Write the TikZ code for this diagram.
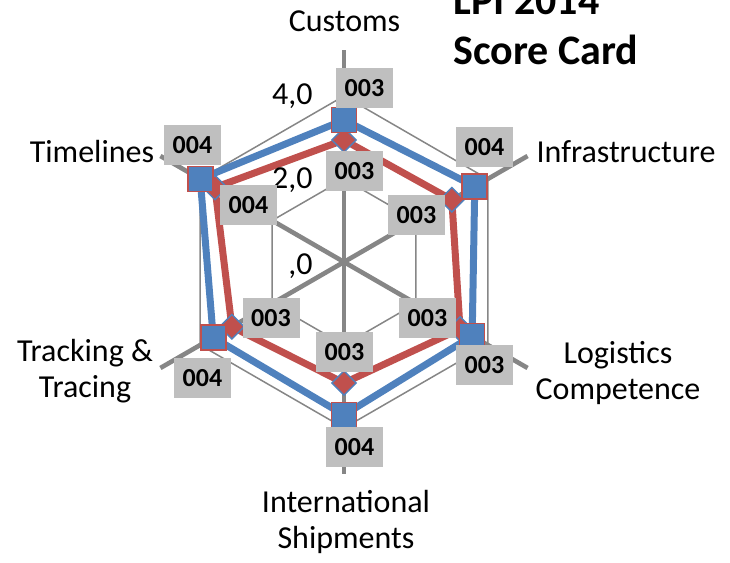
\documentclass[tikz,border=0pt]{standalone}
\usepackage{fontspec}
\setmainfont{Carlito}
\usepackage{xcolor}
\usetikzlibrary{shapes.geometric}
\definecolor{serieblue}{HTML}{4F81BD}
\definecolor{seriered}{HTML}{C0504D}
\definecolor{gridgray}{HTML}{868686}
\definecolor{labelgray}{HTML}{BFBFBF}
\tikzset{
    grid-line/.style = {draw=gridgray, line width=0.75pt},
    axis-line/.style = {draw=gridgray, line width=2.3pt},
    blue-line/.style = {draw=serieblue, line width=3.5pt},
    red-line/.style = {draw=seriered, line width=3.5pt},
    blue-mark/.style = {rectangle, fill=serieblue, draw=seriered, line width=0.8pt, minimum size=12.5pt, inner sep=0pt},
    red-mark/.style = {diamond, fill=seriered, draw=serieblue, line width=0.7pt, minimum size=12.5pt, inner sep=0pt},
    value-box/.style = {fill=labelgray, font=\fontsize{13}{15}\selectfont\bfseries, minimum width=28.5pt, minimum height=20pt, inner sep=0pt},
    axis-label/.style = {font=\fontsize{16}{18}\selectfont, align=center},
    scale-label/.style = {font=\fontsize{16}{18}\selectfont, anchor=east, inner sep=0pt},
    title-line/.style = {font=\fontsize{21}{25}\selectfont\bfseries, anchor=base west, inner sep=0pt},
}

\begin{document}
\begin{tikzpicture}[x=0.5pt, y=0.5pt]
\useasboundingbox (0,0) rectangle (730,563);

% radar grid and spokes
\begin{scope}[shift={(344,301)}]
\coordinate (O) at (0,0);
\foreach \r in {83,166}
    \draw[grid-line] (90:\r) -- (30:\r) -- (-30:\r) -- (-90:\r) -- (-150:\r) -- (150:\r) -- cycle;
\foreach \a in {90,30,-30,-90,-150,150}
    \draw[axis-line] (O) -- (\a:212);

% series points
\coordinate (r1) at (90:122);
\coordinate (r2) at (30:124.5);
\coordinate (r3) at (-30:134);
\coordinate (r4) at (-90:121);
\coordinate (r5) at (-150:129.5);
\coordinate (r6) at (150:149);
\coordinate (b1) at (90:142);
\coordinate (b2) at (30:151);
\coordinate (b3) at (-30:148);
\coordinate (b4) at (-90:153);
\coordinate (b5) at (-150:151);
\coordinate (b6) at (150:166);
\end{scope}

\draw[red-line] (r1) -- (r2) -- (r3) -- (r4) -- (r5) -- (r6) -- cycle;
\foreach \i in {1,...,6}
    \node[red-mark] (rm\i) at (r\i) {};
\draw[blue-line] (b1) -- (b2) -- (b3) -- (b4) -- (b5) -- (b6) -- cycle;
\foreach \i in {1,...,6}
    \node[blue-mark] (bm\i) at (b\i) {};

% scale
\node[scale-label] (s4) at (313,467) {4,0};
\node[scale-label] (s2) at (313,383) {2,0};
\node[scale-label] (s0) at (313,297) {,0};

% value labels
\node[value-box] (rv1) at (354.5,392) {003};
\node[value-box] (rv2) at (416.5,348) {003};
\node[value-box] (rv3) at (427.5,245) {003};
\node[value-box] (rv4) at (344.5,211) {003};
\node[value-box] (rv5) at (271,245) {003};
\node[value-box] (rv6) at (248.5,358) {004};
\node[value-box] (bv1) at (364.5,475) {003};
\node[value-box] (bv2) at (484.5,416) {004};
\node[value-box] (bv3) at (484.5,198) {003};
\node[value-box] (bv4) at (354.5,116) {004};
\node[value-box] (bv5) at (202.5,185) {004};
\node[value-box] (bv6) at (192.5,418) {004};

% axis names
\node[axis-label] (customs) at (344.5,542) {Customs};
\node[axis-label] (infra) at (626,411) {Infrastructure};
\node[axis-label] (logistics) at (618,190) {Logistics\\Competence};
\node[axis-label] (shipments) at (346,41) {International\\Shipments};
\node[axis-label] (tracking) at (85,192) {Tracking \&\\Tracing};
\node[axis-label] (timelines) at (92,411) {Timelines};

% title
\node[title-line] (title-a) at (453,548) {LPI 2014};
\node[title-line] (title-b) at (453,498) {Score Card};
\end{tikzpicture}
\end{document}
